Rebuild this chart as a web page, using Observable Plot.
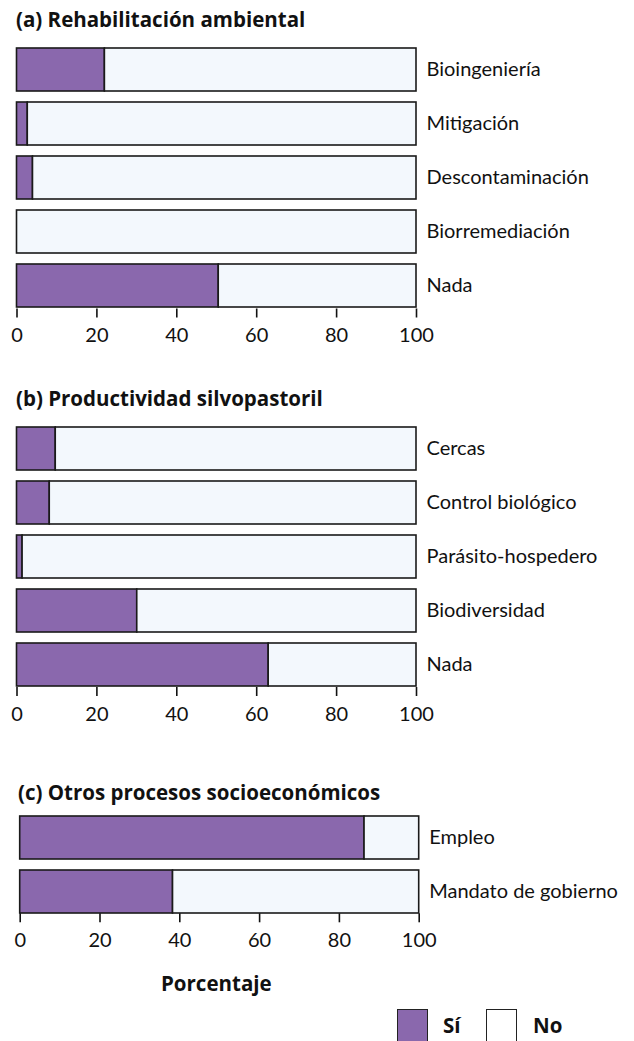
<!DOCTYPE html>
<html><head><meta charset="utf-8">
<script src="https://cdn.jsdelivr.net/npm/d3@7"></script>
<script src="https://cdn.jsdelivr.net/npm/@observablehq/plot@0.6"></script>
<style>
body{margin:0;background:#fff;font-family:Lato, sans-serif;}
#root{position:relative;width:634px;height:1041px;overflow:hidden;background:#fff;}
.txt{position:absolute;font-size:20px;line-height:20px;color:#111;white-space:nowrap;}
.b{font-family:"Open Sans", sans-serif;font-weight:700;font-size:20.5px;}
.panel{position:absolute;left:0;}
.sw{position:absolute;width:31px;height:34px;border:1.5px solid #222;box-sizing:border-box;}
</style></head><body><div id="root"></div>
<script>
// ---- data ----
const responses = ["Sí", "No"];
const xTicks = [0, 20, 40, 60, 80, 100];
const panelTitles = ["(a) Rehabilitación ambiental", "(b) Productividad silvopastoril", "(c) Otros procesos socioeconómicos"];
const axisTitle = "Porcentaje";

const rehabCats = ["Bioingeniería", "Mitigación", "Descontaminación", "Biorremediación", "Nada"];
const rehabSi = [22, 2.7, 4, 0, 50.5];
const rehabNo = [78, 97.3, 96, 100, 49.5];

const silvoCats = ["Cercas", "Control biológico", "Parásito-hospedero", "Biodiversidad", "Nada"];
const silvoSi = [9.7, 8.2, 1.4, 30.1, 63];
const silvoNo = [90.3, 91.8, 98.6, 69.9, 37];

const socioCats = ["Empleo", "Mandato de gobierno"];
const socioSi = [86.3, 38.3];
const socioNo = [13.7, 61.7];

// ---- styles ----
const purple = "#8a68ad";
const pale = "#f3f8fd";
const ink = "#1a1a1a";

const root = document.getElementById("root");

function addText(str, left, top, bold) {
  const d = document.createElement("div");
  d.className = "txt" + (bold ? " b" : "");
  d.textContent = str;
  d.style.left = left + "px";
  d.style.top = top + "px";
  root.appendChild(d);
  return d;
}

function panel(cats, si, no, top, height, yRange, x0, x1) {
  const rows = [];
  cats.forEach((c, i) => {
    rows.push({cat: c, resp: responses[0], value: si[i]});
    rows.push({cat: c, resp: responses[1], value: no[i]});
  });
  const svg = Plot.plot({
    width: 634,
    height,
    marginLeft: x0,
    marginRight: 634 - x1,
    marginTop: 0,
    marginBottom: height - yRange[1],
    style: {fontFamily: "Lato, sans-serif", fontSize: "20px", color: "#111", background: "transparent", overflow: "visible"},
    x: {domain: [0, 100], ticks: xTicks},
    y: {domain: cats, range: yRange, paddingInner: 0.2, paddingOuter: 0},
    color: {domain: responses, range: [purple, pale]},
    marks: [
      Plot.barX(rows, {x: "value", y: "cat", fill: "resp", order: responses, stroke: ink, strokeWidth: 1.6}),
      Plot.axisX({ticks: xTicks, tickSize: 9, tickPadding: 10, tickFormat: d => String(d), label: null, strokeWidth: 1.6}),
      Plot.axisY({anchor: "right", tickSize: 0, tickPadding: 10, label: null})
    ]
  });
  svg.classList.add("panel");
  svg.style.top = top + "px";
  root.appendChild(svg);
}

panel(rehabCats, rehabSi, rehabNo, 0, 350, [46, 308.5], 16.5, 416);
panel(silvoCats, silvoSi, silvoNo, 380, 350, [45.5, 307], 16.5, 416);
panel(socioCats, socioSi, socioNo, 770, 190, [45, 143.3], 19.7, 418.7);

addText(panelTitles[0], 16, 9, true);
addText(panelTitles[1], 16, 388, true);
addText(panelTitles[2], 18, 782, true);
addText(axisTitle, 161, 973, true);

// legend
const sw1 = document.createElement("div");
sw1.className = "sw"; sw1.style.left = "397px"; sw1.style.top = "1009px"; sw1.style.background = purple;
root.appendChild(sw1);
const sw2 = document.createElement("div");
sw2.className = "sw"; sw2.style.left = "486px"; sw2.style.top = "1009px"; sw2.style.background = "#fff";
root.appendChild(sw2);
addText(responses[0], 443, 1015, true);
addText(responses[1], 533, 1015, true);
</script>
</body></html>
